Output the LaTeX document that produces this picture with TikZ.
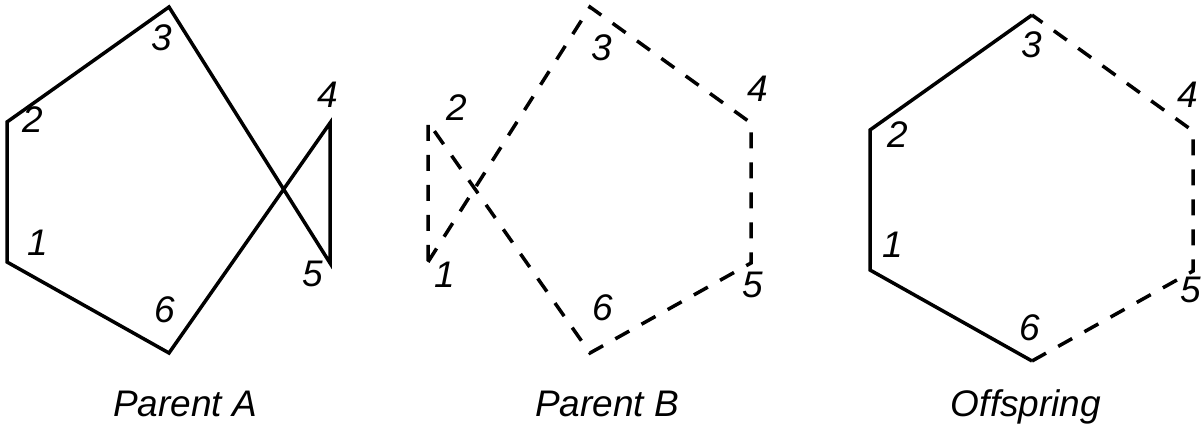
\documentclass[tikz,border=0pt]{standalone}
\usepackage{fontspec}
\setsansfont{Liberation Sans}
\usepackage{tikz}

\begin{document}
\begin{tikzpicture}[x=1pt, y=-1pt,
  tour/.style={line width=3.5pt, line join=miter},
  dashtour/.style={tour, dash pattern=on 16pt off 14pt},
  num/.style={inner sep=0pt, font=\sffamily\itshape\fontsize{37}{40}\selectfont},
  caption/.style={inner sep=0pt, anchor=base, font=\sffamily\itshape\fontsize{37}{40}\selectfont}]
\useasboundingbox (0,0) rectangle (1203,429);
% vertices: parent A, parent B (shifted), offspring (shifted)
\foreach \n/\x/\y in {1/7/262, 2/7/122, 3/169/7, 4/330/123, 5/330/263, 6/169/353}
  { \coordinate (a\n) at (\x,\y); \coordinate (b\n) at (\x+421,\y); \coordinate (c\n) at (\x+863,\y+8); }
\draw[tour] (a1) -- (a2) -- (a3) -- (a5) -- (a4) -- (a6) -- cycle;
\draw[dashtour] (b1) -- (b3) -- (b4) -- (b5) -- (b6) -- (b2) -- cycle;
\draw[tour] (c3) -- (c2) -- (c1) -- (c6);
\draw[dashtour] (c6) -- (c5) -- (c4) -- (c3);
\foreach \n/\x/\y in {1/38/243, 2/33/120, 3/162/38, 4/328/95, 5/313/274, 6/165/310} { \node[num] (la\n) at (\x,\y) {\n}; }
\foreach \n/\x/\y in {1/445/275, 2/457/108, 3/602/48, 4/758/89, 5/753/285, 6/603/308} { \node[num] (lb\n) at (\x,\y) {\n}; }
\foreach \n/\x/\y in {1/893/245, 2/898/135, 3/1032/45, 4/1188/95, 5/1191/290, 6/1030/328} { \node[num] (lc\n) at (\x,\y) {\n}; }
\node[caption] (capA) at (185,416) {Parent A};
\node[caption] (capB) at (607,416) {Parent B};
\node[caption] (capC) at (1026,416) {Offspring};
\end{tikzpicture}
\end{document}
